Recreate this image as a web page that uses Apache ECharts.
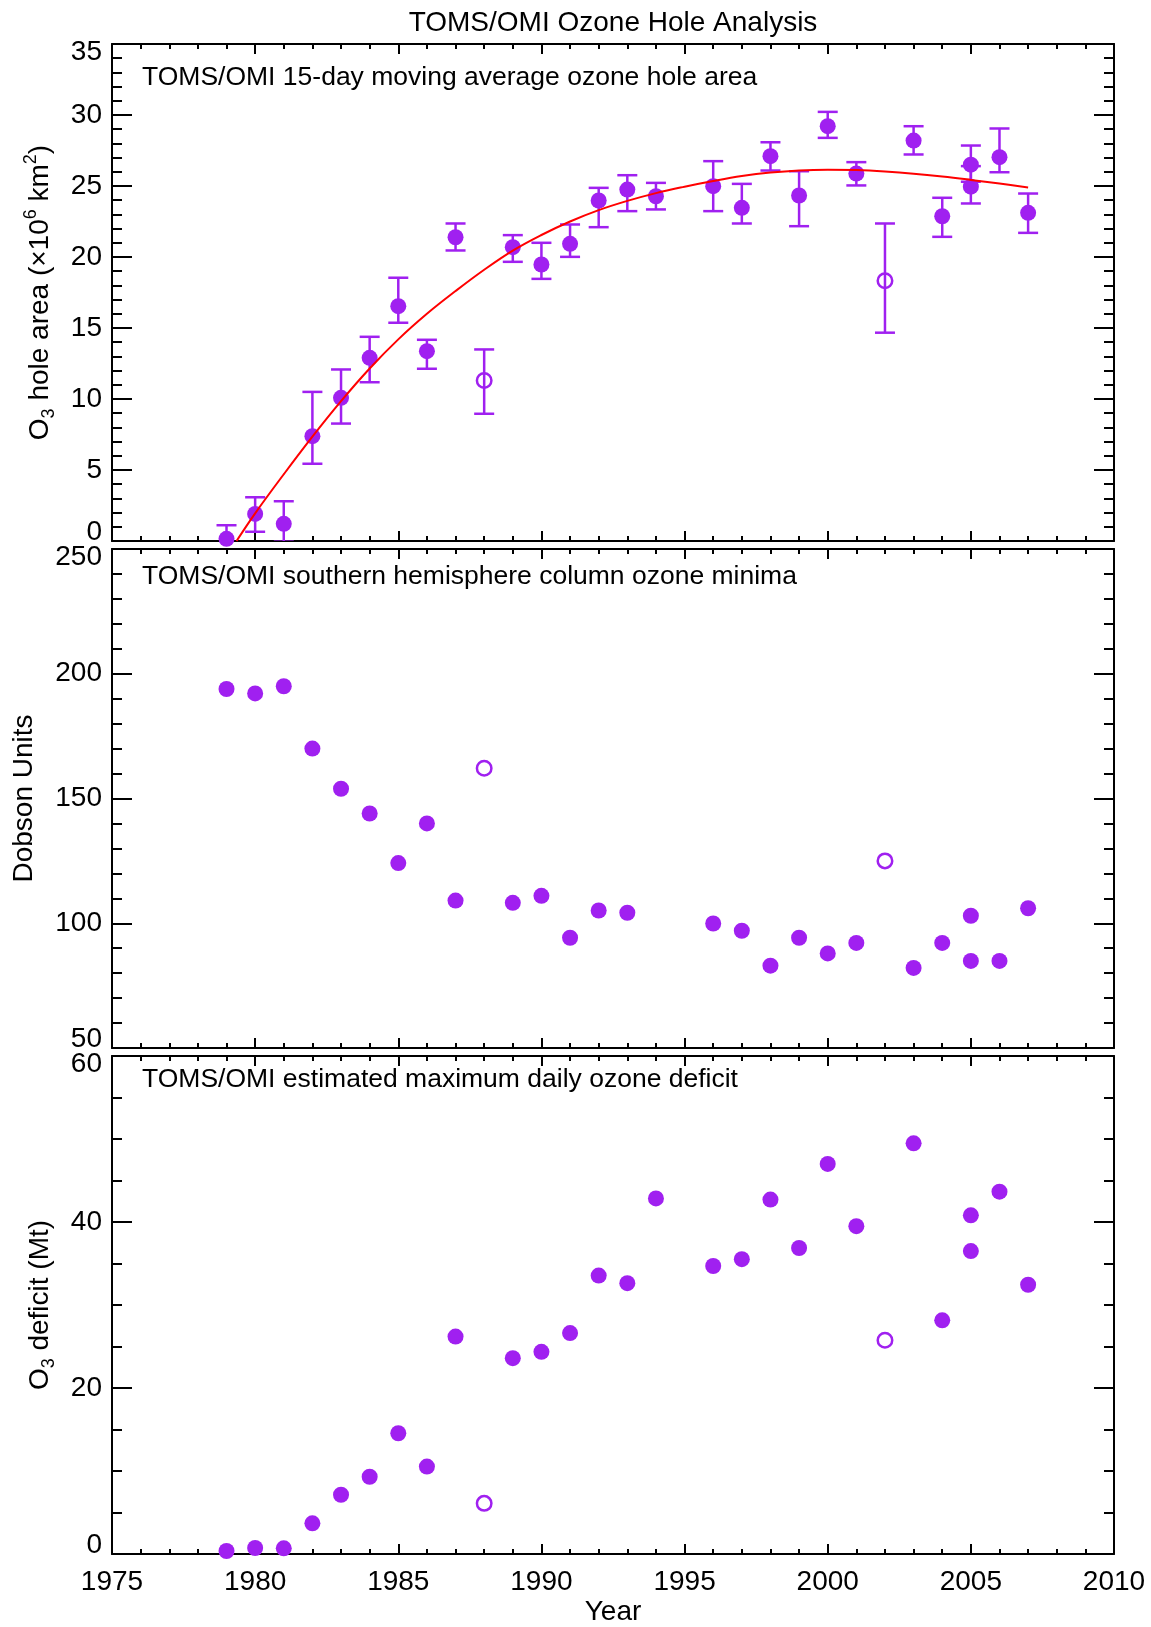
<!DOCTYPE html>
<html>
<head>
<meta charset="utf-8">
<script src="https://cdn.jsdelivr.net/npm/echarts@6/dist/echarts.min.js"></script>
<style>
html,body{margin:0;padding:0;background:#ffffff;}
#chart{width:1151px;height:1627px;}
</style>
</head>
<body>
<div id="chart"></div>
<script>
// ---------------- data ----------------
// x axis (years)
const yearRange = [1975, 2010, 5];

// Panel 1: 15-day moving average ozone hole area (10^6 km^2)
const areaYears = [1979,1980,1981,1982,1983,1984,1985,1986,1987,1989,1990,1991,1992,1993,1994,1996,1997,1998,1999,2000,2001,2003,2004,2005,2005,2006,2007];
const areaMean  = [0.15,1.91,1.21,7.38,10.08,12.9,16.54,13.37,21.39,20.69,19.47,20.93,23.98,24.75,24.28,24.99,23.46,27.1,24.33,29.21,25.88,28.2,22.87,26.5,24.95,27.03,23.11];
const areaLow   = [-0.8,0.65,-0.05,5.44,8.27,11.18,15.37,12.13,20.46,19.66,18.46,20.01,22.1,23.23,23.35,23.23,22.36,26.09,22.17,28.39,25.04,27.22,21.42,25.3,23.77,25.97,21.7];
const areaHigh  = [1.11,3.08,2.8,10.5,12.08,14.38,18.54,14.17,22.36,21.54,21.0,22.29,24.87,25.76,25.22,26.75,25.15,28.08,26.04,30.22,26.68,29.21,24.17,27.85,26.4,29.05,24.47];
const areaOpenYears = [1988, 2002];
const areaOpenMean  = [11.3, 18.32];
const areaOpenLow   = [8.96, 14.67];
const areaOpenHigh  = [13.49, 22.36];
// red fitted curve
const fitYears = [1979.35,1980,1981,1982,1983,1984,1985,1986,1987,1988,1989,1990,1991,1992,1993,1994,1995,1996,1997,1998,1999,2000,2001,2002,2003,2004,2005,2006,2007];
const fitArea  = [0,1.95,4.7,7.35,9.85,12.15,14.2,16.0,17.6,19.1,20.45,21.55,22.5,23.3,23.95,24.5,24.95,25.35,25.7,25.95,26.1,26.15,26.12,26.02,25.87,25.67,25.43,25.17,24.9];
const areaTicks = [0, 35, 5];

// Panel 2: southern hemisphere column ozone minima (DU)
const minYears  = [1979,1980,1981,1982,1983,1984,1985,1986,1987,1989,1990,1991,1992,1993,1996,1997,1998,1999,2000,2001,2003,2004,2005,2005,2006,2007];
const minValues = [193.9,192.1,195.0,170.0,153.9,144.0,124.1,140.0,109.1,108.2,111.0,94.2,105.1,104.2,99.9,97.0,83.0,94.2,87.9,92.1,82.1,92.1,103.0,84.9,84.9,106.0];
const minOpenYears  = [1988, 2002];
const minOpenValues = [162.1, 125.0];
const minTicks = [50, 250, 50];

// Panel 3: estimated maximum daily ozone deficit (Mt)
const defYears  = [1979,1980,1981,1982,1983,1984,1985,1986,1987,1989,1990,1991,1992,1993,1994,1996,1997,1998,1999,2000,2001,2003,2004,2005,2005,2006,2007];
const defValues = [0.36,0.72,0.68,3.7,7.14,9.31,14.55,10.53,26.2,23.59,24.36,26.62,33.55,32.63,42.84,34.7,35.52,42.7,36.87,47.0,39.5,49.48,28.15,40.8,36.5,43.65,32.44];
const defOpenYears  = [1988, 2002];
const defOpenValues = [6.1, 25.76];
const defTicks = [0, 60, 20];

// ---------------- style ----------------
const FONT = '"Liberation Sans", Arial, Helvetica, sans-serif';
const PURPLE = '#A020F0';
const BLACK = '#000000';

const zip2 = (a, b) => a.map((v, i) => [v, b[i]]);
const zip3 = (a, b, c) => a.map((v, i) => [v, b[i], c[i]]);

const grids = [
  {left: 112, right: 37, top: 44, height: 497},
  {left: 112, right: 37, top: 549, height: 499},
  {left: 112, right: 37, top: 1056, height: 498}
];

function xAxesFor(g, showLabels) {
  const common = {
    type: 'value', gridIndex: g, min: yearRange[0], max: yearRange[1], interval: yearRange[2],
    axisLine: {show: true, onZero: false, lineStyle: {color: BLACK, width: 2}},
    axisTick: {show: true, inside: true, length: 10, lineStyle: {color: BLACK, width: 2}},
    minorTick: {show: true, splitNumber: 5, length: 5, lineStyle: {color: BLACK, width: 2}},
    splitLine: {show: false}, minorSplitLine: {show: false}
  };
  return [
    Object.assign({}, common, {position: 'bottom',
      axisLabel: {show: showLabels, color: BLACK, fontFamily: FONT, fontSize: 28, margin: 14,
                  formatter: v => String(v)}}),
    Object.assign({}, common, {position: 'top', axisLabel: {show: false}})
  ];
}

const nameRich = {
  n:   {fontFamily: FONT, fontSize: 28, color: BLACK, lineHeight: 36, verticalAlign: 'middle'},
  sub: {fontFamily: FONT, fontSize: 18, color: BLACK, lineHeight: 18, verticalAlign: 'bottom'},
  sup: {fontFamily: FONT, fontSize: 18, color: BLACK, lineHeight: 18, verticalAlign: 'top'}
};
const labelRich = {
  lo: {fontFamily: FONT, fontSize: 28, color: BLACK, padding: [0, 0, 18, 0]},
  hi: {fontFamily: FONT, fontSize: 28, color: BLACK, padding: [16, 0, 0, 0]}
};

function yAxesFor(g, ticks, split, name, nameGap) {
  const common = {
    type: 'value', gridIndex: g, min: ticks[0], max: ticks[1], interval: ticks[2],
    axisLine: {show: true, onZero: false, lineStyle: {color: BLACK, width: 2}},
    axisTick: {show: true, inside: true, length: 20, lineStyle: {color: BLACK, width: 2}},
    minorTick: {show: true, splitNumber: split, length: 10, lineStyle: {color: BLACK, width: 2}},
    splitLine: {show: false}, minorSplitLine: {show: false}
  };
  return [
    Object.assign({}, common, {
      position: 'left',
      name: name, nameLocation: 'middle', nameRotate: 90, nameGap: nameGap,
      nameTextStyle: {fontFamily: FONT, fontSize: 28, color: BLACK, rich: nameRich},
      axisLabel: {
        show: true, color: BLACK, fontFamily: FONT, fontSize: 28, margin: 10,
        formatter: v => v === ticks[0] ? '{lo|' + v + '}' : (v === ticks[1] ? '{hi|' + v + '}' : String(v)),
        rich: labelRich
      }
    }),
    Object.assign({}, common, {position: 'right', axisLabel: {show: false}})
  ];
}

function errorBarItem(params, api) {
  const x = api.value(0);
  const lo = api.coord([x, api.value(1)]);
  const hi = api.coord([x, api.value(2)]);
  const hw = 10;
  const style = {stroke: PURPLE, lineWidth: 2.5, fill: null};
  return {
    type: 'group',
    children: [
      {type: 'line', shape: {x1: lo[0], y1: lo[1], x2: hi[0], y2: hi[1]}, style: style},
      {type: 'line', shape: {x1: lo[0] - hw, y1: lo[1], x2: lo[0] + hw, y2: lo[1]}, style: style},
      {type: 'line', shape: {x1: hi[0] - hw, y1: hi[1], x2: hi[0] + hw, y2: hi[1]}, style: style}
    ]
  };
}

function filledDots(xi, yi, data) {
  return {type: 'scatter', xAxisIndex: xi, yAxisIndex: yi, data: data,
    symbol: 'circle', symbolSize: 16, itemStyle: {color: PURPLE, opacity: 1},
    z: 3, silent: true, animation: false};
}
function openDots(xi, yi, data) {
  return {type: 'scatter', xAxisIndex: xi, yAxisIndex: yi, data: data,
    symbol: 'circle', symbolSize: 14.5,
    itemStyle: {color: 'rgba(0,0,0,0)', borderColor: PURPLE, borderWidth: 2.5, opacity: 1},
    z: 3, silent: true, animation: false};
}

const textStyleBase = {fontFamily: FONT, fontWeight: 'normal', color: BLACK};

const option = {
  backgroundColor: '#ffffff',
  animation: false,
  title: [
    {text: 'TOMS/OMI Ozone Hole Analysis', left: 613, top: 9, textAlign: 'center', padding: 0,
     textStyle: Object.assign({fontSize: 28, lineHeight: 28}, textStyleBase)},
    {text: 'TOMS/OMI 15-day moving average ozone hole area', left: 142, top: 65, padding: 0,
     textStyle: Object.assign({fontSize: 26.5, lineHeight: 26}, textStyleBase)},
    {text: 'TOMS/OMI southern hemisphere column ozone minima', left: 142, top: 564, padding: 0,
     textStyle: Object.assign({fontSize: 26.5, lineHeight: 26}, textStyleBase)},
    {text: 'TOMS/OMI estimated maximum daily ozone deficit', left: 142, top: 1067, padding: 0,
     textStyle: Object.assign({fontSize: 26.5, lineHeight: 26}, textStyleBase)},
    {text: 'Year', left: 613, top: 1598, textAlign: 'center', padding: 0,
     textStyle: Object.assign({fontSize: 28, lineHeight: 28}, textStyleBase)}
  ],
  grid: grids,
  xAxis: [].concat(xAxesFor(0, false), xAxesFor(1, false), xAxesFor(2, true)),
  yAxis: [].concat(
    yAxesFor(0, areaTicks, 5, '{n|O}{sub|3}{n| hole area (×10}{sup|6}{n| km}{sup|2}{n|)}', 54),
    yAxesFor(1, minTicks, 5, '{n|Dobson Units}', 70),
    yAxesFor(2, defTicks, 4, '{n|O}{sub|3}{n| deficit (Mt)}', 54)
  ),
  series: [
    // panel 1
    {type: 'custom', xAxisIndex: 0, yAxisIndex: 0, renderItem: errorBarItem, clip: true,
     data: zip3(areaYears, areaLow, areaHigh), z: 2, silent: true},
    {type: 'custom', xAxisIndex: 0, yAxisIndex: 0, renderItem: errorBarItem, clip: true,
     data: zip3(areaOpenYears, areaOpenLow, areaOpenHigh), z: 2, silent: true},
    filledDots(0, 0, zip2(areaYears, areaMean)),
    openDots(0, 0, zip2(areaOpenYears, areaOpenMean)),
    {type: 'line', xAxisIndex: 0, yAxisIndex: 0, data: zip2(fitYears, fitArea),
     smooth: 0.4, showSymbol: false, symbol: 'none', clip: true,
     lineStyle: {color: '#FF0000', width: 2}, z: 4, silent: true},
    // panel 2
    filledDots(2, 2, zip2(minYears, minValues)),
    openDots(2, 2, zip2(minOpenYears, minOpenValues)),
    // panel 3
    filledDots(4, 4, zip2(defYears, defValues)),
    openDots(4, 4, zip2(defOpenYears, defOpenValues))
  ]
};

const chart = echarts.init(document.getElementById('chart'), null, {renderer: 'canvas', width: 1151, height: 1627});
chart.setOption(option);
</script>
</body>
</html>
